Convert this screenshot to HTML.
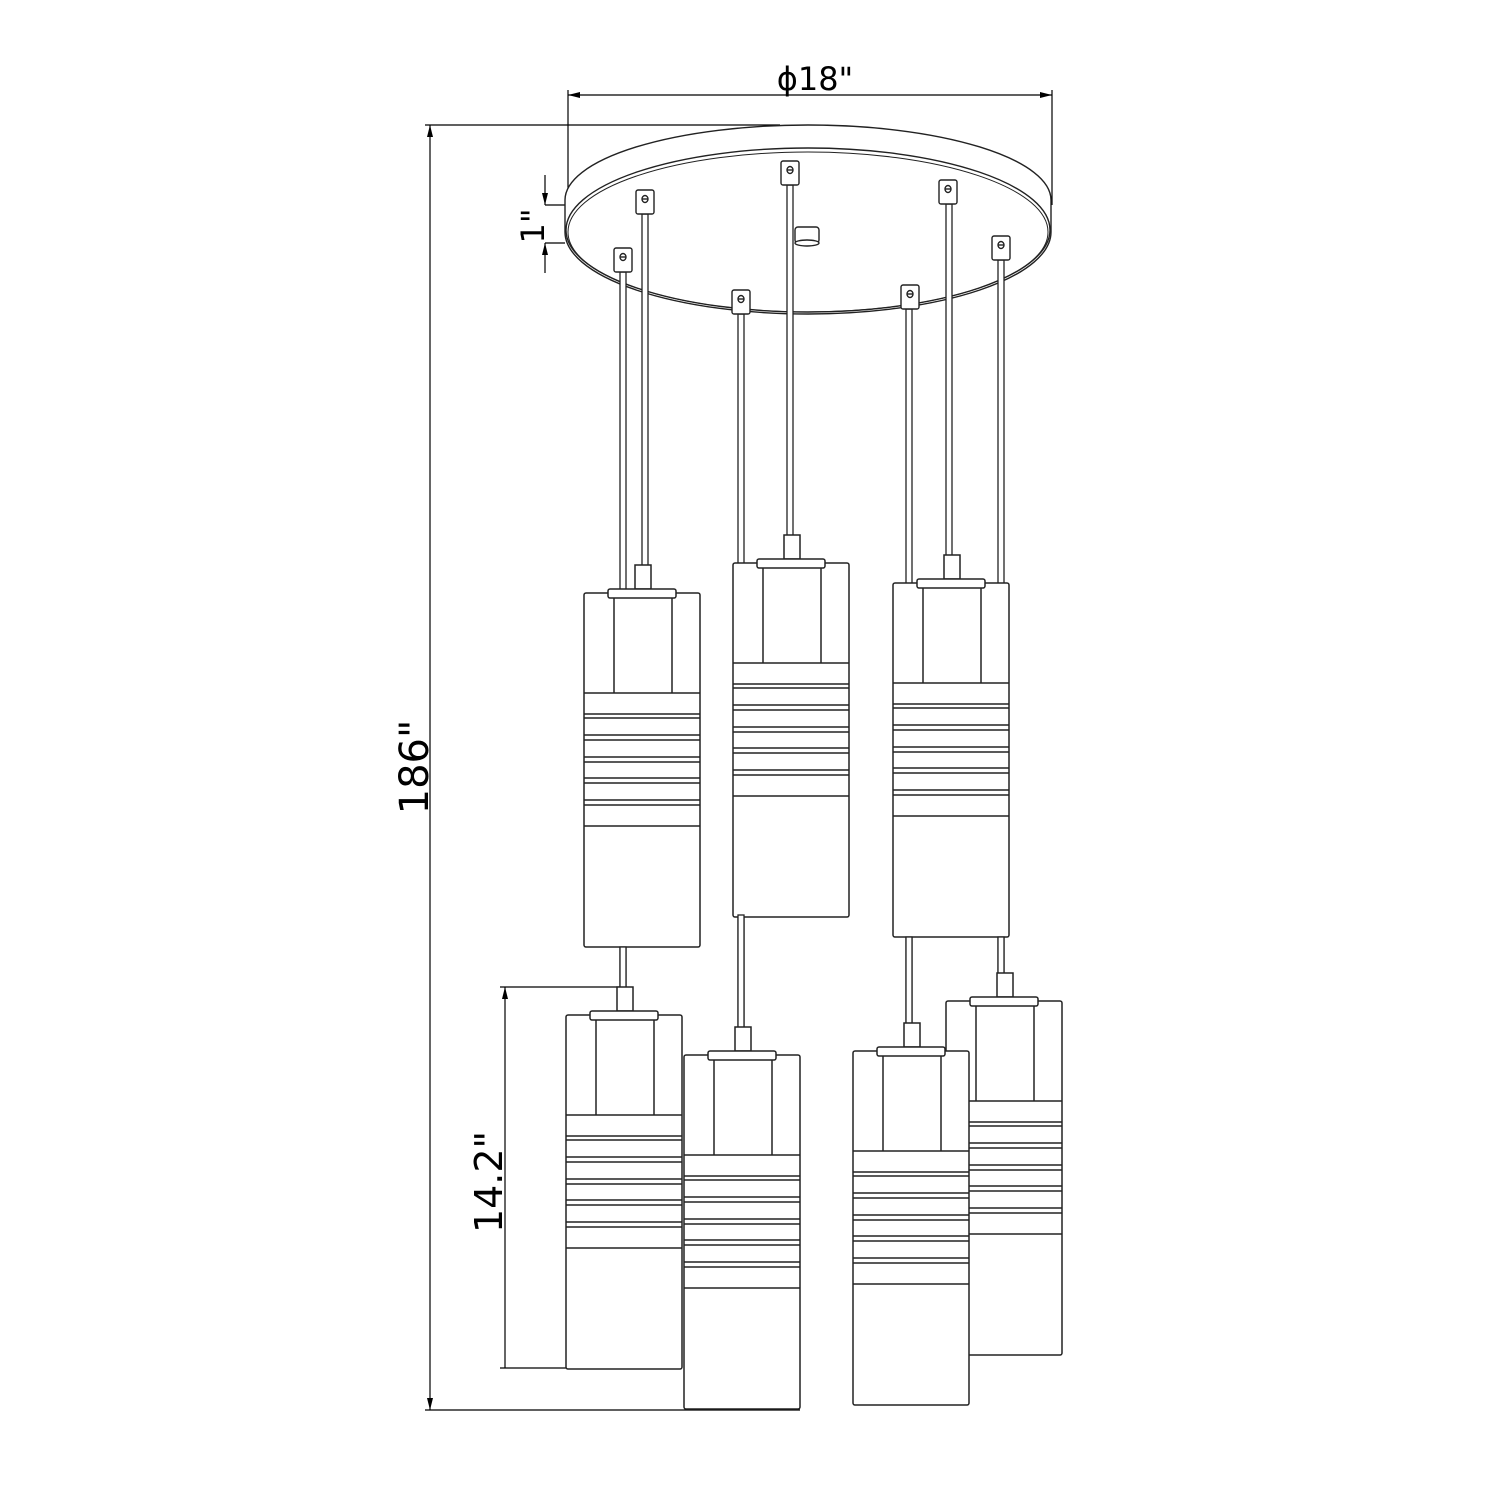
<!DOCTYPE html>
<html><head><meta charset="utf-8"><style>
html,body{margin:0;padding:0;background:#fff;}
svg{display:block;}
text{font-family:"DejaVu Sans","Liberation Sans",sans-serif;fill:#000;}
</style></head><body>
<svg width="1500" height="1500" viewBox="0 0 1500 1500" xmlns="http://www.w3.org/2000/svg">
<defs>
<marker id="ar" viewBox="0 0 12 6" refX="12" refY="3" markerWidth="12" markerHeight="6" orient="auto-start-reverse" markerUnits="userSpaceOnUse">
<path d="M0,0 L12,3 L0,6 z" fill="#000"/></marker>
<symbol id="pend" overflow="visible">
<g fill="#fff" stroke="#222" stroke-width="1.5">
<rect x="51" y="-28" width="16" height="24"/>
<rect x="0" y="0" width="116" height="354" rx="2"/>
<rect x="24" y="-4" width="68" height="9" rx="2"/>
<line x1="30" y1="5" x2="30" y2="100"/>
<line x1="88" y1="5" x2="88" y2="100"/>
<line x1="0" y1="100" x2="116" y2="100"/>
<line x1="0" y1="121" x2="116" y2="121"/><line x1="0" y1="125" x2="116" y2="125"/>
<line x1="0" y1="142" x2="116" y2="142"/><line x1="0" y1="147" x2="116" y2="147"/>
<line x1="0" y1="164" x2="116" y2="164"/><line x1="0" y1="169" x2="116" y2="169"/>
<line x1="0" y1="185" x2="116" y2="185"/><line x1="0" y1="190" x2="116" y2="190"/>
<line x1="0" y1="207" x2="116" y2="207"/><line x1="0" y1="212" x2="116" y2="212"/>
<line x1="0" y1="233" x2="116" y2="233"/>
</g>
</symbol>
<symbol id="mnt" overflow="visible">
<g fill="#fff" stroke="#222" stroke-width="1.4">
<rect x="-9" y="0" width="18" height="24" rx="2"/>
<ellipse cx="0" cy="9" rx="3" ry="3.5"/>
<line x1="-3" y1="9" x2="3" y2="9"/>
</g>
</symbol>
</defs>

<g stroke="#000" stroke-width="1.2" fill="none">
<line x1="568" y1="95" x2="1052" y2="95" marker-start="url(#ar)" marker-end="url(#ar)"/>
<line x1="568" y1="90" x2="568" y2="205"/>
<line x1="1052" y1="90" x2="1052" y2="205"/>
<line x1="430" y1="125" x2="430" y2="1410" marker-start="url(#ar)" marker-end="url(#ar)"/>
<line x1="425" y1="125" x2="780" y2="125"/>
<line x1="425" y1="1410" x2="800" y2="1410"/>
<line x1="545" y1="175" x2="545" y2="205" marker-end="url(#ar)"/>
<line x1="545" y1="273" x2="545" y2="243" marker-end="url(#ar)"/>
<line x1="545" y1="205" x2="565" y2="205"/>
<line x1="545" y1="243" x2="565" y2="243"/>
<line x1="505" y1="987" x2="505" y2="1368" marker-start="url(#ar)"/>
<line x1="500" y1="987" x2="622" y2="987"/>
<line x1="500" y1="1368" x2="566" y2="1368"/>
</g>
<text x="815" y="90" font-size="32" text-anchor="middle">ϕ18"</text>
<text transform="translate(428,767) rotate(-90)" font-size="40" text-anchor="middle">186"</text>
<text transform="translate(544,226) rotate(-90)" font-size="32" text-anchor="middle">1"</text>
<text transform="translate(502,1182) rotate(-90)" font-size="38" text-anchor="middle">14.2"</text>

<g stroke="#222" stroke-width="1.4" fill="#fff">
<path d="M565,200 A243,75 0 0 1 1051,200 L1051,232 A243,82 0 0 1 565,232 Z"/>
<ellipse cx="808" cy="230" rx="242" ry="82" fill="none"/>
<ellipse cx="808" cy="232" rx="240" ry="80" fill="none" stroke-width="1"/>
<rect x="795" y="227" width="24" height="16" rx="3"/>
<ellipse cx="807" cy="243" rx="12" ry="3"/>
</g>

<g fill="#fff" stroke="#222" stroke-width="1.3">
<rect x="620" y="272" width="6" height="720"/>
<rect x="642" y="214" width="6" height="352"/>
<rect x="738" y="314" width="6" height="716"/>
<rect x="787" y="185" width="6" height="352"/>
<rect x="906" y="309" width="6" height="718"/>
<rect x="946" y="204" width="6" height="352"/>
<rect x="998" y="260" width="6" height="717"/>
</g>
<use href="#mnt" x="645" y="190"/>
<use href="#mnt" x="790" y="161"/>
<use href="#mnt" x="948" y="180"/>
<use href="#mnt" x="1001" y="236"/>
<use href="#mnt" x="623" y="248"/>
<use href="#mnt" x="741" y="290"/>
<use href="#mnt" x="910" y="285"/>

<use href="#pend" x="584" y="593"/>
<use href="#pend" x="733" y="563"/>
<use href="#pend" x="893" y="583"/>
<g fill="#fff" stroke="#222" stroke-width="1.3">
<rect x="620" y="947" width="6" height="45"/>
<rect x="738" y="915" width="6" height="115"/>
<rect x="906" y="937" width="6" height="90"/>
<rect x="998" y="937" width="6" height="40"/>
</g>
<use href="#pend" x="566" y="1015"/>
<use href="#pend" x="946" y="1001"/>
<use href="#pend" x="684" y="1055"/>
<use href="#pend" x="853" y="1051"/>
</svg>
</body></html>
